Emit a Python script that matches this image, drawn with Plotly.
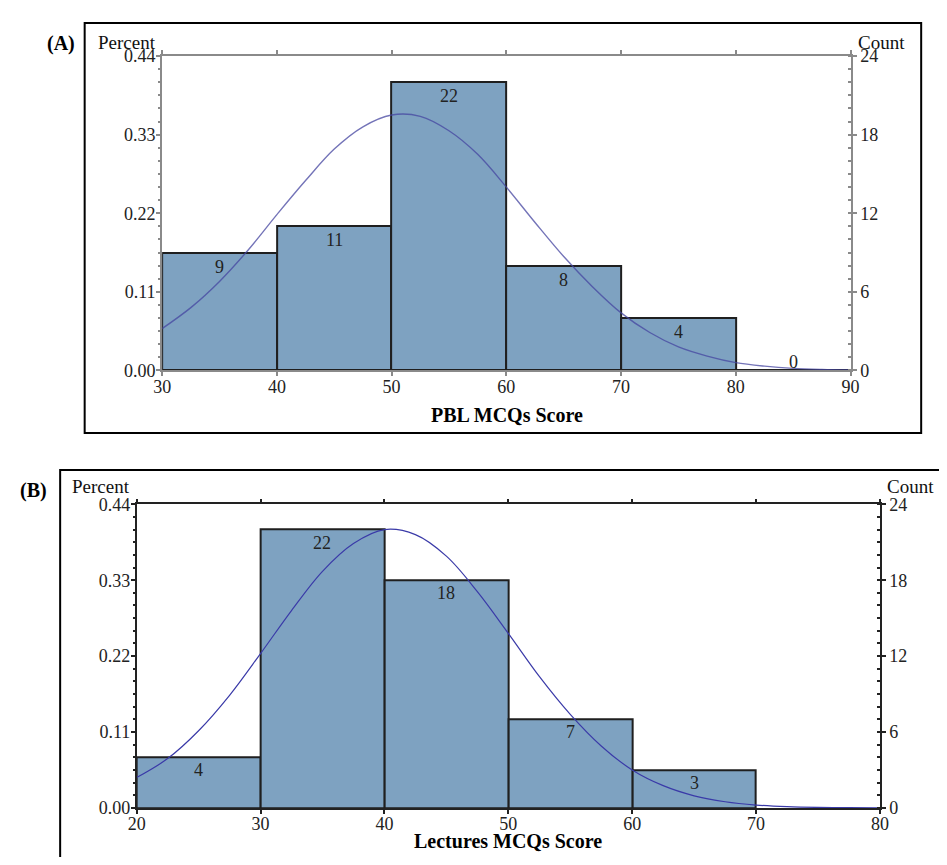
import plotly.graph_objects as go

# page is shown with the browser's default 8px body margin
PAGE_W, PAGE_H, OFF = 947, 865, 8
W, H = PAGE_W - 2 * OFF, PAGE_H - 2 * OFF

# ---------------- data ----------------
# Panel A: PBL MCQs Score histogram (bin midpoints, counts)
pbl_bin_mid = [35, 45, 55, 65, 75, 85]
pbl_counts = [9, 11, 22, 8, 4, 0]
pbl_bin_width = 10
# fitted normal curve, in count units
pbl_curve_x = [30, 32.5, 35, 37.5, 40, 42.5, 45, 47.5, 50, 52.5, 55, 57.5, 60,
               62.5, 65, 67.5, 70, 72.5, 75, 77.5, 80, 82.5, 85, 87.5, 90]
pbl_curve_y = [3.2, 4.8, 6.8, 9.2, 11.9, 14.5, 16.9, 18.6, 19.5, 19.4, 18.3, 16.5, 14.0,
               11.3, 8.7, 6.4, 4.4, 2.9, 1.8, 1.1, 0.6, 0.33, 0.16, 0.08, 0.04]

# Panel B: Lectures MCQs Score histogram
lec_bin_mid = [25, 35, 45, 55, 65]
lec_counts = [4, 22, 18, 7, 3]
lec_bin_width = 10
lec_curve_x = [20, 22.5, 25, 27.5, 30, 32.5, 35, 37.5, 40, 42.5, 45, 47.5, 50,
               52.5, 55, 57.5, 60, 62.5, 65, 67.5, 70, 72.5, 75, 77.5, 80]
lec_curve_y = [2.4, 3.9, 6.1, 8.9, 12.2, 15.6, 18.7, 20.9, 22.0, 21.6, 19.9, 17.1, 13.8,
               10.4, 7.4, 4.9, 3.0, 1.76, 0.96, 0.49, 0.23, 0.10, 0.04, 0.02, 0.01]

pct_ticks = [0.00, 0.11, 0.22, 0.33, 0.44]
count_ticks = [0, 6, 12, 18, 24]
pbl_x_ticks = [30, 40, 50, 60, 70, 80, 90]
lec_x_ticks = [20, 30, 40, 50, 60, 70, 80]

# ---------------- styling ----------------
FONT = "Liberation Serif"
BAR_FILL = "#7ea2c1"
BAR_LINE = "#1f1f1f"


def px_x(p):
    return (p - OFF) / W


def px_y(p):
    return 1 - (p - OFF) / H


fig = go.Figure()

# Panel A
fig.add_trace(go.Scatter(x=[None], y=[None], xaxis="x", yaxis="y", showlegend=False, hoverinfo="skip"))
fig.add_trace(go.Bar(x=pbl_bin_mid, y=pbl_counts, width=pbl_bin_width, xaxis="x", yaxis="y2",
                     marker=dict(color=BAR_FILL, line=dict(color=BAR_LINE, width=2)), showlegend=False))
fig.add_trace(go.Scatter(x=pbl_curve_x, y=pbl_curve_y, mode="lines",
                         line=dict(color="rgba(70,70,160,0.75)", width=1.4, shape="spline"),
                         xaxis="x", yaxis="y2", showlegend=False))
# Panel B
fig.add_trace(go.Scatter(x=[None], y=[None], xaxis="x2", yaxis="y3", showlegend=False, hoverinfo="skip"))
fig.add_trace(go.Bar(x=lec_bin_mid, y=lec_counts, width=lec_bin_width, xaxis="x2", yaxis="y4",
                     marker=dict(color=BAR_FILL, line=dict(color=BAR_LINE, width=2)), showlegend=False))
fig.add_trace(go.Scatter(x=lec_curve_x, y=lec_curve_y, mode="lines",
                         line=dict(color="#3a3aa8", width=1.2, shape="spline"),
                         xaxis="x2", yaxis="y4", showlegend=False))

tickfont = dict(family=FONT, size=18, color="#222")


def xaxis(domain, anchor, rng, ticks, color, lw):
    return dict(domain=domain, anchor=anchor, range=rng, tickvals=ticks, tickfont=tickfont,
                showline=True, linecolor=color, linewidth=lw, mirror="ticks",
                ticks="outside", ticklen=4, tickcolor=color, tickwidth=1.5, ticklabelstandoff=-5,
                showgrid=False, zeroline=False, fixedrange=True)


def yleft(domain, anchor, color, lw):
    return dict(domain=domain, anchor=anchor, range=[0, 0.44], tickvals=pct_ticks, tickformat=".2f",
                tickfont=tickfont, showline=True, linecolor=color, linewidth=lw,
                ticks="outside", ticklen=4, tickcolor=color, tickwidth=1.5, ticklabelstandoff=-3,
                minor=dict(dtick=0.11 / 6, tick0=0, ticks="outside", ticklen=2, tickcolor=color),
                showgrid=False, zeroline=False, fixedrange=True)


def yright(overlay, anchor, color, lw):
    return dict(overlaying=overlay, anchor=anchor, side="right", range=[0, 24], tickvals=count_ticks,
                tickfont=tickfont, showline=True, linecolor=color, linewidth=lw,
                ticks="outside", ticklen=4, tickcolor=color, tickwidth=1.5,
                minor=dict(dtick=1, tick0=0, ticks="inside", ticklen=3, tickcolor=color),
                showgrid=False, zeroline=False, fixedrange=True)


A_xdom = [px_x(156), px_x(858)]
A_ydom = [px_y(369), px_y(47)]
B_xdom = [px_x(130), px_x(888)]
B_ydom = [px_y(817), px_y(506)]

annotations = []
for mid, c in zip(pbl_bin_mid, pbl_counts):
    annotations.append(dict(x=mid, y=c, xref="x", yref="y2", text=str(c), showarrow=False,
                            xanchor="center", yanchor="middle", yshift=(-14 if c > 0 else 8),
                            font=dict(family=FONT, size=18, color="#222")))
for mid, c in zip(lec_bin_mid, lec_counts):
    annotations.append(dict(x=mid, y=c, xref="x2", yref="y4", text=str(c), showarrow=False,
                            xanchor="center", yanchor="middle", yshift=(-13 if c > 0 else 8),
                            font=dict(family=FONT, size=18, color="#222")))

lab = dict(family=FONT, size=19, color="#111")
bold = dict(family=FONT, size=20, color="#000")


def note(x, y, text, font, xanchor="center"):
    return dict(x=px_x(x), y=px_y(y), xref="paper", yref="paper", text=text, showarrow=False,
                xanchor=xanchor, yanchor="middle", font=font)


annotations += [
    note(53, 34, "<b>(A)</b>", bold),
    note(152, 33, "Percent", lab, "right"),
    note(864, 33, "Count", lab, "left"),
    note(508, 415, "<b>PBL MCQs Score</b>", bold),
    note(25, 492, "<b>(B)</b>", bold),
    note(125, 488, "Percent", lab, "right"),
    note(893, 488, "Count", lab, "left"),
    note(509, 851, "<b>Lectures MCQs Score</b>", bold),
]

shapes = [
    dict(type="rect", xref="paper", yref="paper", x0=px_x(77), x1=px_x(930), y0=px_y(433), y1=px_y(13),
         line=dict(color="#000", width=2), fillcolor="rgba(0,0,0,0)", layer="below"),
    dict(type="rect", xref="paper", yref="paper", x0=px_x(52), x1=px_x(975), y0=px_y(890), y1=px_y(471),
         line=dict(color="#000", width=2), fillcolor="rgba(0,0,0,0)", layer="below"),
]

fig.update_layout(
    width=W, height=H, margin=dict(l=0, r=0, t=0, b=0),
    paper_bgcolor="white", plot_bgcolor="rgba(0,0,0,0)",
    bargap=0, barmode="overlay", showlegend=False,
    xaxis=xaxis(A_xdom, "y", [30, 90], pbl_x_ticks, "#8a8a8a", 2),
    yaxis=yleft(A_ydom, "x", "#8a8a8a", 2),
    yaxis2=yright("y", "x", "#8a8a8a", 2),
    xaxis2=xaxis(B_xdom, "y3", [20, 80], lec_x_ticks, "#222", 1.5),
    yaxis3=yleft(B_ydom, "x2", "#222", 1.5),
    yaxis4=yright("y3", "x2", "#222", 1.5),
    annotations=annotations, shapes=shapes,
)

fig.write_html("out.html", config={"displayModeBar": False})
